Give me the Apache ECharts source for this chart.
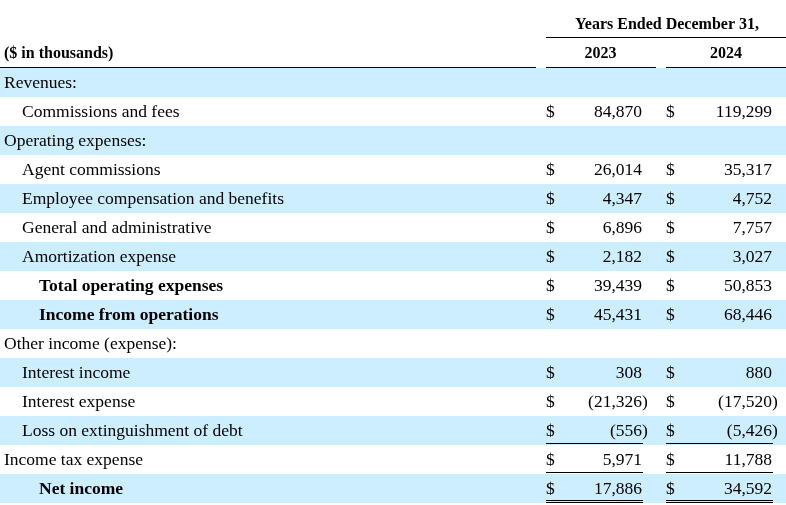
<!DOCTYPE html>
<html>
<head>
<meta charset="utf-8">
<script src="https://cdn.jsdelivr.net/npm/echarts@6/dist/echarts.min.js"></script>
<style>
  html, body { margin: 0; padding: 0; background: #fff; }
  #echart { width: 786px; height: 505px; }
</style>
</head>
<body>
<div id="echart"></div>
<script>
const headerTitle = 'Years Ended December 31,';
const unitLabel = '($ in thousands)';
const yearLabels = ['2023', '2024'];

const rowLabels = [
  'Revenues:',
  'Commissions and fees',
  'Operating expenses:',
  'Agent commissions',
  'Employee compensation and benefits',
  'General and administrative',
  'Amortization expense',
  'Total operating expenses',
  'Income from operations',
  'Other income (expense):',
  'Interest income',
  'Interest expense',
  'Loss on extinguishment of debt',
  'Income tax expense',
  'Net income'
];
// 0 = heading, 1 = line item, 2 = total
const rowLevel = [0, 1, 0, 1, 1, 1, 1, 2, 2, 0, 1, 1, 1, 0, 2];
const values2023 = [null, 84870, null, 26014, 4347, 6896, 2182, 39439, 45431, null, 308, -21326, -556, 5971, 17886];
const values2024 = [null, 119299, null, 35317, 4752, 7757, 3027, 50853, 68446, null, 880, -17520, -5426, 11788, 34592];
const singleRuleRows = ['Loss on extinguishment of debt', 'Income tax expense'];
const doubleRuleRows = ['Net income'];

const FONT = '"Liberation Serif", "Times New Roman", serif';
const BAND = '#cceeff';

// column x positions on the value axis (0..786)
const cols = [
  { dollar: 546, right: 642, ruleFrom: 546, ruleTo: 643, values: values2023 },
  { dollar: 666, right: 772, ruleFrom: 666, ruleTo: 773, values: values2024 }
];
const indent = [4, 22, 39];

function fmt(v) {
  return Math.abs(v).toLocaleString('en-US');
}

function txt(x, y, text, align, bold) {
  return {
    type: 'text',
    style: {
      x: x, y: y, text: text,
      fill: '#000',
      font: (bold ? 'bold ' : '') + '17.5px ' + FONT,
      textAlign: align,
      textVerticalAlign: 'middle'
    }
  };
}

function renderRow(params, api) {
  const i = api.value(1);
  const center = api.coord([0, i]);
  const h = api.size([0, 1])[1];
  const top = center[1] - h / 2;
  const bottom = center[1] + h / 2;
  const cy = center[1] + 1;
  const sys = params.coordSys;
  const name = rowLabels[i];
  const bold = rowLevel[i] === 2;
  const children = [];

  if (i % 2 === 0) {
    children.push({ type: 'rect', shape: { x: sys.x, y: top, width: sys.width, height: h }, style: { fill: BAND } });
  }
  children.push(txt(api.coord([indent[rowLevel[i]], i])[0], cy, name, 'left', bold));

  cols.forEach(function (c) {
    const v = c.values[i];
    if (v === null) return;
    const xd = api.coord([c.dollar, i])[0];
    const xr = api.coord([c.right, i])[0];
    children.push(txt(xd, cy, '$', 'left', false));
    if (v < 0) {
      children.push(txt(xr, cy, '(' + fmt(v), 'right', false));
      children.push(txt(xr, cy, ')', 'left', false));
    } else {
      children.push(txt(xr, cy, fmt(v), 'right', false));
    }
    const x1 = api.coord([c.ruleFrom, i])[0];
    const x2 = api.coord([c.ruleTo, i])[0];
    if (singleRuleRows.indexOf(name) >= 0) {
      children.push({ type: 'line', shape: { x1: x1, y1: bottom - 1.5, x2: x2, y2: bottom - 1.5 }, style: { stroke: '#000', lineWidth: 1 } });
    }
    if (doubleRuleRows.indexOf(name) >= 0) {
      children.push({ type: 'line', shape: { x1: x1, y1: bottom - 2.5, x2: x2, y2: bottom - 2.5 }, style: { stroke: '#000', lineWidth: 1 } });
      children.push({ type: 'line', shape: { x1: x1, y1: bottom - 0.5, x2: x2, y2: bottom - 0.5 }, style: { stroke: '#000', lineWidth: 1 } });
    }
  });

  return { type: 'group', children: children };
}

const chart = echarts.init(document.getElementById('echart'));

function headText(x, y, text, align) {
  return {
    type: 'text',
    style: { x: x, y: y, text: text, font: 'bold 16px ' + FONT, fill: '#000', textAlign: align, textVerticalAlign: 'middle' }
  };
}

const option = {
  animation: false,
  grid: { left: 0, right: 0, top: 68, bottom: 2 },
  xAxis: { type: 'value', min: 0, max: 786, show: false },
  yAxis: { type: 'category', data: rowLabels, inverse: true, show: false },
  graphic: [
    headText(667, 25, headerTitle, 'center'),
    { type: 'line', shape: { x1: 546, y1: 37.5, x2: 786, y2: 37.5 }, style: { stroke: '#000', lineWidth: 1 } },
    headText(4, 54, unitLabel, 'left'),
    headText(600.5, 54, yearLabels[0], 'center'),
    headText(726, 54, yearLabels[1], 'center'),
    { type: 'line', shape: { x1: 0, y1: 67.5, x2: 536, y2: 67.5 }, style: { stroke: '#000', lineWidth: 1 }, z: 10 },
    { type: 'line', shape: { x1: 546, y1: 67.5, x2: 656, y2: 67.5 }, style: { stroke: '#000', lineWidth: 1 }, z: 10 },
    { type: 'line', shape: { x1: 666, y1: 67.5, x2: 786, y2: 67.5 }, style: { stroke: '#000', lineWidth: 1 }, z: 10 }
  ],
  series: [{
    type: 'custom',
    renderItem: renderRow,
    data: rowLabels.map(function (n, i) { return [0, i]; }),
    silent: true
  }]
};

chart.setOption(option);
</script>
</body>
</html>
